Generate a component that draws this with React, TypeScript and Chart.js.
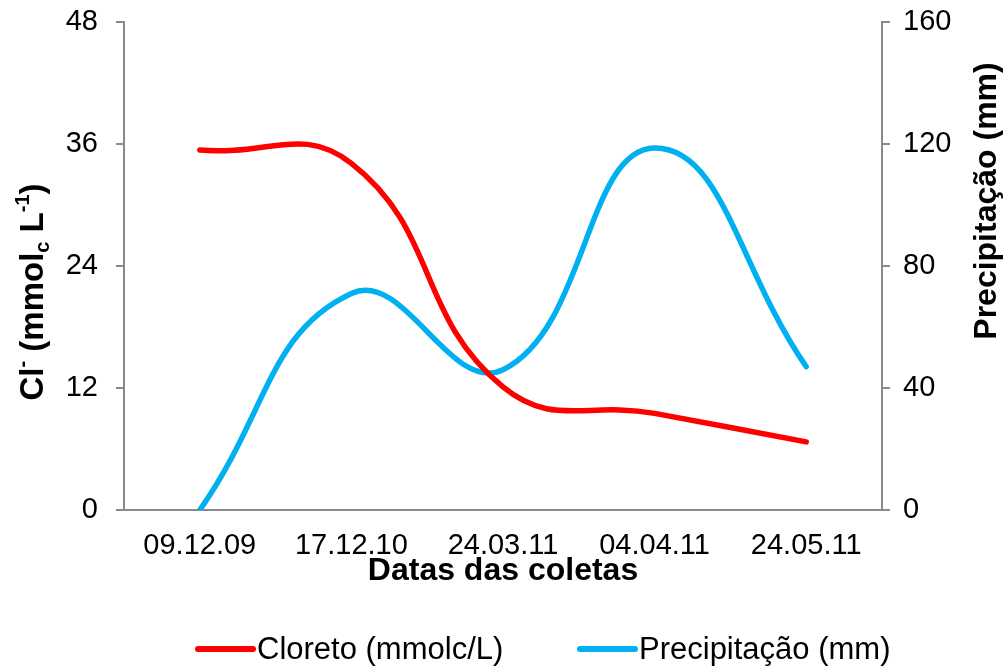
import React, { useEffect, useRef } from "react";
import { Chart, registerables } from "chart.js";

Chart.register(...registerables);

const categories = ["09.12.09", "17.12.10", "24.03.11", "04.04.11", "24.05.11"];
const cloreto = [35.4, 34.1, 12.1, 9.5, 6.7];
const precipitacao = [0, 71, 46, 118.7, 47];
const leftTicks = [0, 12, 24, 36, 48];
const rightTicks = [0, 40, 80, 120, 160];
const seriesNames = ["Cloreto (mmolc/L)", "Precipitação (mm)"];
const seriesColors = ["#FF0000", "#00B0F0"];

const FONT = "'Liberation Sans', Arial, sans-serif";
const AXIS = "#8a8a8a";

type Part = { t: string; kind: "n" | "sup" | "sub" };

const leftTitle: Part[] = [
  { t: "Cl", kind: "n" },
  { t: "-", kind: "sup" },
  { t: " (mmol", kind: "n" },
  { t: "c", kind: "sub" },
  { t: " L", kind: "n" },
  { t: "-1", kind: "sup" },
  { t: ")", kind: "n" },
];
const rightTitle: Part[] = [{ t: "Precipitação (mm)", kind: "n" }];

function drawRich(ctx: CanvasRenderingContext2D, parts: Part[], cx: number, cy: number, size: number) {
  const big = `bold ${size}px ${FONT}`;
  const small = `bold ${Math.round(size * 0.62)}px ${FONT}`;
  let total = 0;
  for (const p of parts) {
    ctx.font = p.kind === "n" ? big : small;
    total += ctx.measureText(p.t).width;
  }
  ctx.save();
  ctx.translate(cx, cy);
  ctx.rotate(-Math.PI / 2);
  ctx.fillStyle = "#000";
  ctx.textBaseline = "alphabetic";
  ctx.textAlign = "left";
  let x = -total / 2;
  const base = size * 0.36;
  for (const p of parts) {
    ctx.font = p.kind === "n" ? big : small;
    let y = base;
    if (p.kind === "sup") y = base - size * 0.42;
    if (p.kind === "sub") y = base + size * 0.18;
    ctx.fillText(p.t, x, y);
    x += ctx.measureText(p.t).width;
  }
  ctx.restore();
}

const legendLayout = [
  { x0: 198, x1: 253, tx: 257 },
  { x0: 580, x1: 635, tx: 639 },
];

const titlesPlugin = {
  id: "richTitles",
  afterDraw(chart: any) {
    const ctx = chart.ctx as CanvasRenderingContext2D;
    drawRich(ctx, leftTitle, 31, 292, 33);
    drawRich(ctx, rightTitle, 984, 201, 32);
    const ly = 649;
    ctx.save();
    seriesNames.forEach((name, i) => {
      const L = legendLayout[i];
      ctx.strokeStyle = seriesColors[i];
      ctx.lineWidth = 6;
      ctx.lineCap = "round";
      ctx.beginPath();
      ctx.moveTo(L.x0, ly);
      ctx.lineTo(L.x1, ly);
      ctx.stroke();
      ctx.fillStyle = "#000";
      ctx.font = `31px ${FONT}`;
      ctx.textBaseline = "middle";
      ctx.textAlign = "left";
      ctx.fillText(name, L.tx, ly + 1);
    });
    ctx.restore();
  },
};

export default function App() {
  const ref = useRef<HTMLCanvasElement>(null);
  useEffect(() => {
    if (!ref.current) return;
    const chart = new Chart(ref.current, {
      type: "line",
      data: {
        labels: categories,
        datasets: [
          {
            label: seriesNames[0],
            data: cloreto,
            borderColor: seriesColors[0],
            backgroundColor: seriesColors[0],
            borderWidth: 5.5,
            borderCapStyle: "round",
            tension: 0.45,
            pointRadius: 0,
            yAxisID: "y",
          },
          {
            label: seriesNames[1],
            data: precipitacao,
            borderColor: seriesColors[1],
            backgroundColor: seriesColors[1],
            borderWidth: 5.5,
            borderCapStyle: "round",
            tension: 0.45,
            pointRadius: 0,
            yAxisID: "y1",
          },
        ],
      },
      options: {
        animation: false,
        responsive: false,
        maintainAspectRatio: false,
        layout: { padding: { top: 22, bottom: 0, left: 0, right: 0 } },
        plugins: {
          tooltip: { enabled: false },
          legend: { display: false },
        },
        scales: {
          x: {
            offset: true,
            grid: { display: true, drawOnChartArea: false, drawTicks: false, color: AXIS },
            border: { display: true, color: AXIS, width: 2 },
            ticks: { color: "#000", padding: 19, maxRotation: 0, font: { family: FONT, size: 29 } },
            title: {
              display: true,
              text: "Datas das coletas",
              color: "#000",
              font: { family: FONT, size: 32, weight: "bold" },
              padding: { top: 0, bottom: 79 },
            },
            afterFit(scale: any) {
              scale.height = 159;
              scale.paddingLeft = 0;
              scale.paddingRight = 0;
            },
          },
          y: {
            position: "left",
            min: 0,
            max: 48,
            afterBuildTicks(scale: any) {
              scale.ticks = leftTicks.map((v) => ({ value: v }));
            },
            grid: { drawOnChartArea: false, tickLength: 8, color: AXIS, lineWidth: 2 },
            border: { display: true, color: AXIS, width: 2 },
            ticks: { color: "#000", padding: 18, font: { family: FONT, size: 29 } },
            afterFit(scale: any) {
              scale.width = 124;
              scale.paddingTop = 0;
              scale.paddingBottom = 0;
            },
          },
          y1: {
            position: "right",
            min: 0,
            max: 160,
            afterBuildTicks(scale: any) {
              scale.ticks = rightTicks.map((v) => ({ value: v }));
            },
            grid: { drawOnChartArea: false, tickLength: 8, color: AXIS, lineWidth: 2 },
            border: { display: true, color: AXIS, width: 2 },
            ticks: { color: "#000", padding: 13, font: { family: FONT, size: 29 } },
            afterFit(scale: any) {
              scale.width = 124;
              scale.paddingTop = 0;
              scale.paddingBottom = 0;
            },
          },
        },
      },
      plugins: [titlesPlugin],
    } as any);
    return () => chart.destroy();
  }, []);
  return (
    <div style={{ position: "absolute", left: 0, top: 0, width: 1006, height: 669, background: "#fff" }}>
      <canvas ref={ref} width={1006} height={669} style={{ width: 1006, height: 669 }} />
    </div>
  );
}
